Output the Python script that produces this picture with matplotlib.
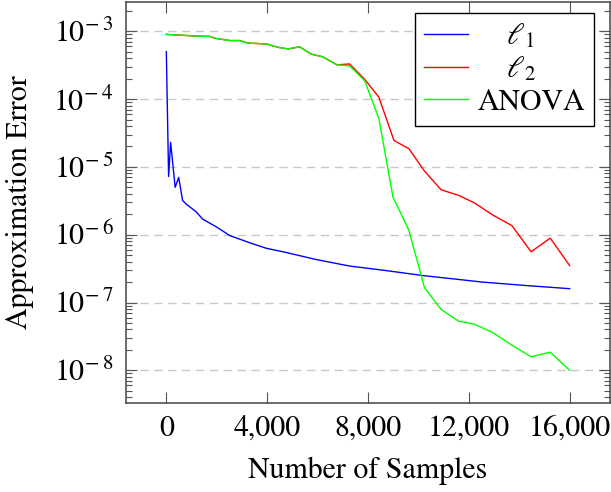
import numpy as np
import matplotlib
matplotlib.use("Agg")
import matplotlib.pyplot as plt
from matplotlib.ticker import LogLocator, FuncFormatter, NullFormatter, FixedLocator

# data
x_l1 = [0, 90, 170, 350, 490, 645, 800, 1170, 1440, 1990, 2520, 3310, 3970,
        4630, 5950, 7270, 8590, 10170, 12550, 14270, 16000]
y_l1 = [5.0e-4, 7.2e-6, 2.3e-5, 5.0e-6, 7.0e-6, 3.2e-6, 2.8e-6, 2.2e-6, 1.7e-6,
        1.3e-6, 9.7e-7, 7.6e-7, 6.3e-7, 5.6e-7, 4.3e-7, 3.45e-7, 3.0e-7, 2.5e-7,
        2.0e-7, 1.78e-7, 1.6e-7]

x_l2 = [0, 1200, 1730, 1920, 2520, 2910, 3240, 3970, 4430, 4830, 5290, 5750,
        6210, 6770, 7270, 7870, 8430, 9030, 9620, 10240, 10900, 11600, 12220,
        12950, 13710, 14470, 15230, 16000]
y_l2 = [9.0e-4, 8.5e-4, 8.4e-4, 7.9e-4, 7.3e-4, 7.3e-4, 6.7e-4, 6.5e-4, 5.8e-4,
        5.5e-4, 5.9e-4, 4.6e-4, 4.2e-4, 3.2e-4, 3.3e-4, 1.95e-4, 1.07e-4,
        2.45e-5, 1.86e-5, 8.7e-6, 4.6e-6, 3.8e-6, 2.95e-6, 1.95e-6, 1.36e-6,
        5.6e-7, 8.9e-7, 3.5e-7]

x_anova = [0, 1200, 1730, 1920, 2520, 2910, 3240, 3970, 4430, 4830, 5290, 5750,
           6210, 6770, 7270, 7870, 8430, 8990, 9620, 10240, 10900, 11600, 12220,
           12950, 13710, 14470, 15230, 16000]
y_anova = [9.0e-4, 8.5e-4, 8.4e-4, 7.9e-4, 7.3e-4, 7.3e-4, 6.7e-4, 6.5e-4,
           5.8e-4, 5.5e-4, 5.9e-4, 4.6e-4, 4.2e-4, 3.2e-4, 3.1e-4, 1.86e-4,
           5.2e-5, 3.6e-6, 1.17e-6, 1.66e-7, 7.9e-8, 5.3e-8, 4.8e-8, 3.6e-8,
           2.35e-8, 1.58e-8, 1.85e-8, 1.0e-8]

x_ticks = [0, 4000, 8000, 12000, 16000]

plt.rcParams['font.family'] = ['STIXGeneral', 'DejaVu Serif']
plt.rcParams['mathtext.fontset'] = 'stix'
plt.rcParams['font.size'] = 21.5

fig = plt.figure(figsize=(6.11, 4.92), dpi=100)
ax = fig.add_axes([126 / 611, 89 / 492, 484 / 611, 401 / 492])

ax.plot(x_l1, y_l1, color='#0000ff', lw=1.0, label='    ' + r'$\ell_1$')
ax.plot(x_l2, y_l2, color='#ff0000', lw=1.0, label='    ' + r'$\ell_2$')
ax.plot(x_anova, y_anova, color='#00ff00', lw=1.0, label='ANOVA')

ax.set_yscale('log')
ax.set_xlim(-1600, 17600)
ax.set_ylim(10 ** -8.482, 10 ** -2.568)

ax.xaxis.set_major_locator(FixedLocator(x_ticks))
ax.xaxis.set_major_formatter(FuncFormatter(lambda v, p: f"{int(v):,}"))
ax.yaxis.set_major_locator(LogLocator(base=10, numticks=20))
ax.yaxis.set_major_formatter(
    FuncFormatter(lambda v, p: r'$10^{\!-%d}$' % round(-np.log10(v))))
ax.yaxis.set_minor_locator(LogLocator(base=10, subs=np.arange(2, 10), numticks=20))
ax.yaxis.set_minor_formatter(NullFormatter())
ax.xaxis.get_offset_text().set_visible(False)
ax.yaxis.get_offset_text().set_visible(False)

ax.tick_params(axis='both', which='both', direction='in', top=True, right=True,
               color='#555555')
ax.tick_params(axis='both', which='major', length=8, width=0.8, pad=9)
ax.tick_params(axis='y', which='minor', length=4.5, width=0.8)
ax.tick_params(axis='x', which='minor', length=0)

ax.grid(True, axis='y', which='major', color='#c8c8c8', ls=(0, (6, 4)), lw=1.0)
ax.set_axisbelow(True)

for s in ax.spines.values():
    s.set_color('#444444')
    s.set_linewidth(1.1)

ax.set_xlabel('Number of Samples', labelpad=10)
ax.set_ylabel('Approximation Error', labelpad=14)

leg = ax.legend(loc='upper right', bbox_to_anchor=(0.967, 0.972), frameon=True,
                fancybox=False, framealpha=1, edgecolor='black',
                handlelength=1.5, handletextpad=0.3, labelspacing=0.15,
                borderpad=0.3, borderaxespad=0)
leg.get_frame().set_linewidth(1.0)

fig.savefig('out.png', dpi=100)
